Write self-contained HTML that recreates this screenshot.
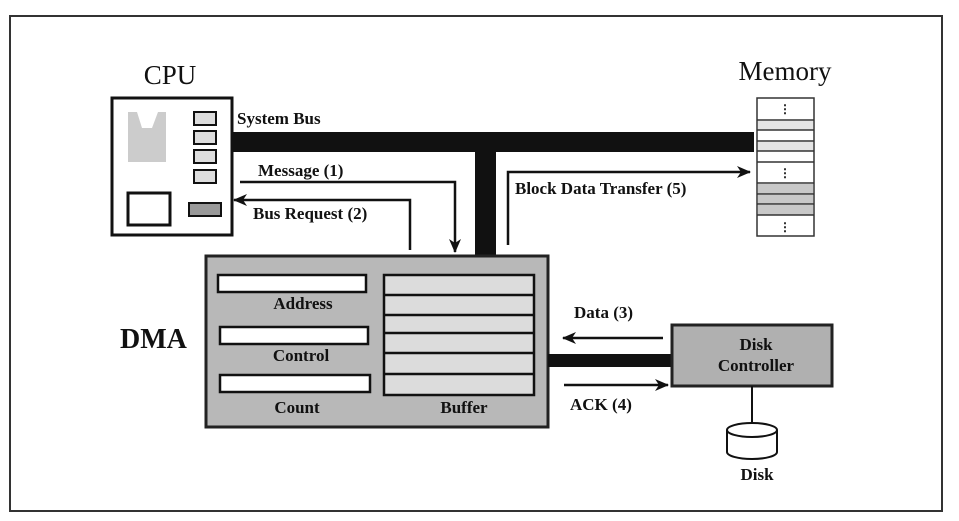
<!DOCTYPE html>
<html><head><style>
html,body{margin:0;padding:0;background:#fff}
svg{display:block}
text{font-family:"Liberation Serif",serif;font-weight:bold;fill:#111}
</style></head><body>
<svg width="959" height="521" viewBox="0 0 959 521" xmlns="http://www.w3.org/2000/svg">
<defs>
<marker id="ah" markerWidth="14" markerHeight="14" refX="13" refY="7" orient="auto" markerUnits="userSpaceOnUse">
<path d="M0,1 L14,7 L0,13 L4,7 Z" fill="#111"/></marker>
</defs>
<rect x="10" y="16" width="932" height="495" fill="#fff" stroke="#333" stroke-width="2"/>

<!-- CPU -->
<text x="170" y="84" font-size="27" text-anchor="middle" style="font-weight:normal">CPU</text>
<rect x="112" y="98" width="120" height="137" fill="#fff" stroke="#111" stroke-width="3"/>
<path d="M128,112 L137,112 L142,128 L152,128 L158,112 L166,112 L166,162 L128,162 Z" fill="#ccc"/>
<rect x="194" y="112" width="22" height="13" fill="#ddd" stroke="#111" stroke-width="2"/>
<rect x="194" y="131" width="22" height="13" fill="#ddd" stroke="#111" stroke-width="2"/>
<rect x="194" y="150" width="22" height="13" fill="#ddd" stroke="#111" stroke-width="2"/>
<rect x="194" y="170" width="22" height="13" fill="#ddd" stroke="#111" stroke-width="2"/>
<rect x="128" y="193" width="42" height="32" fill="#fff" stroke="#111" stroke-width="3"/>
<rect x="189" y="203" width="32" height="13" fill="#999" stroke="#111" stroke-width="2"/>
<text x="237" y="124" font-size="17">System Bus</text>

<!-- System bus -->
<rect x="232" y="132" width="522" height="20" fill="#111"/>
<rect x="475" y="150" width="21" height="106" fill="#111"/>

<!-- Memory -->
<text x="785" y="80" font-size="27" text-anchor="middle" style="font-weight:normal">Memory</text>
<rect x="757" y="98" width="57" height="138" fill="#fff" stroke="#333" stroke-width="1.5"/>
<rect x="758" y="121" width="55" height="9" fill="#e4e4e4"/><rect x="758" y="142" width="55" height="9" fill="#e4e4e4"/>
<rect x="758" y="184" width="55" height="10" fill="#c8c8c8"/><rect x="758" y="195" width="55" height="9" fill="#c8c8c8"/><rect x="758" y="205" width="55" height="10" fill="#c8c8c8"/>
<g stroke="#333" stroke-width="1.5">
<line x1="757" y1="120" x2="814" y2="120"/><line x1="757" y1="130" x2="814" y2="130"/>
<line x1="757" y1="141" x2="814" y2="141"/><line x1="757" y1="151" x2="814" y2="151"/>
<line x1="757" y1="162" x2="814" y2="162"/><line x1="757" y1="183" x2="814" y2="183"/>
<line x1="757" y1="194" x2="814" y2="194"/><line x1="757" y1="204" x2="814" y2="204"/>
<line x1="757" y1="215" x2="814" y2="215"/>
</g>
<text x="785" y="113" font-size="12" text-anchor="middle">⋮</text>
<text x="785" y="177" font-size="12" text-anchor="middle">⋮</text>
<text x="785" y="231" font-size="12" text-anchor="middle">⋮</text>

<!-- arrows top -->
<polyline points="240,182 455,182 455,252" fill="none" stroke="#111" stroke-width="2.5" marker-end="url(#ah)"/>
<text x="258" y="176" font-size="17">Message (1)</text>
<polyline points="410,250 410,200 234,200" fill="none" stroke="#111" stroke-width="2.5" marker-end="url(#ah)"/>
<text x="253" y="219" font-size="17">Bus Request (2)</text>
<polyline points="508,245 508,172 750,172" fill="none" stroke="#111" stroke-width="2.5" marker-end="url(#ah)"/>
<text x="515" y="194" font-size="17">Block Data Transfer (5)</text>

<!-- DMA -->
<text x="120" y="348" font-size="28">DMA</text>
<rect x="206" y="256" width="342" height="171" fill="#b8b8b8" stroke="#222" stroke-width="3"/>
<rect x="218" y="275" width="148" height="17" fill="#fff" stroke="#111" stroke-width="2.5"/>
<rect x="220" y="327" width="148" height="17" fill="#fff" stroke="#111" stroke-width="2.5"/>
<rect x="220" y="375" width="150" height="17" fill="#fff" stroke="#111" stroke-width="2.5"/>
<text x="303" y="309" font-size="17" text-anchor="middle">Address</text>
<text x="301" y="361" font-size="17" text-anchor="middle">Control</text>
<text x="297" y="413" font-size="17" text-anchor="middle">Count</text>
<text x="464" y="413" font-size="17" text-anchor="middle">Buffer</text>
<rect x="384" y="275" width="150" height="120" fill="#dcdcdc" stroke="#111" stroke-width="2.5"/>
<g stroke="#111" stroke-width="2.5">
<line x1="384" y1="295" x2="534" y2="295"/><line x1="384" y1="315" x2="534" y2="315"/>
<line x1="384" y1="333" x2="534" y2="333"/><line x1="384" y1="353" x2="534" y2="353"/>
<line x1="384" y1="374" x2="534" y2="374"/>
</g>

<!-- Disk side -->
<rect x="548" y="354" width="124" height="13" fill="#111"/>
<line x1="663" y1="338" x2="563" y2="338" stroke="#111" stroke-width="2.5" marker-end="url(#ah)"/>
<text x="574" y="318" font-size="17">Data  (3)</text>
<line x1="564" y1="385" x2="668" y2="385" stroke="#111" stroke-width="2.5" marker-end="url(#ah)"/>
<text x="570" y="410" font-size="17">ACK  (4)</text>
<rect x="672" y="325" width="160" height="61" fill="#b0b0b0" stroke="#222" stroke-width="3"/>
<text x="756" y="350" font-size="17" text-anchor="middle">Disk</text>
<text x="756" y="371" font-size="17" text-anchor="middle">Controller</text>
<line x1="752" y1="386" x2="752" y2="430" stroke="#111" stroke-width="2"/>
<path d="M727,430 L727,452 A25,7 0 0 0 777,452 L777,430" fill="#fff" stroke="#111" stroke-width="2"/>
<ellipse cx="752" cy="430" rx="25" ry="7" fill="#fff" stroke="#111" stroke-width="2"/>
<text x="757" y="480" font-size="17" text-anchor="middle">Disk</text>
</svg>
</body></html>
